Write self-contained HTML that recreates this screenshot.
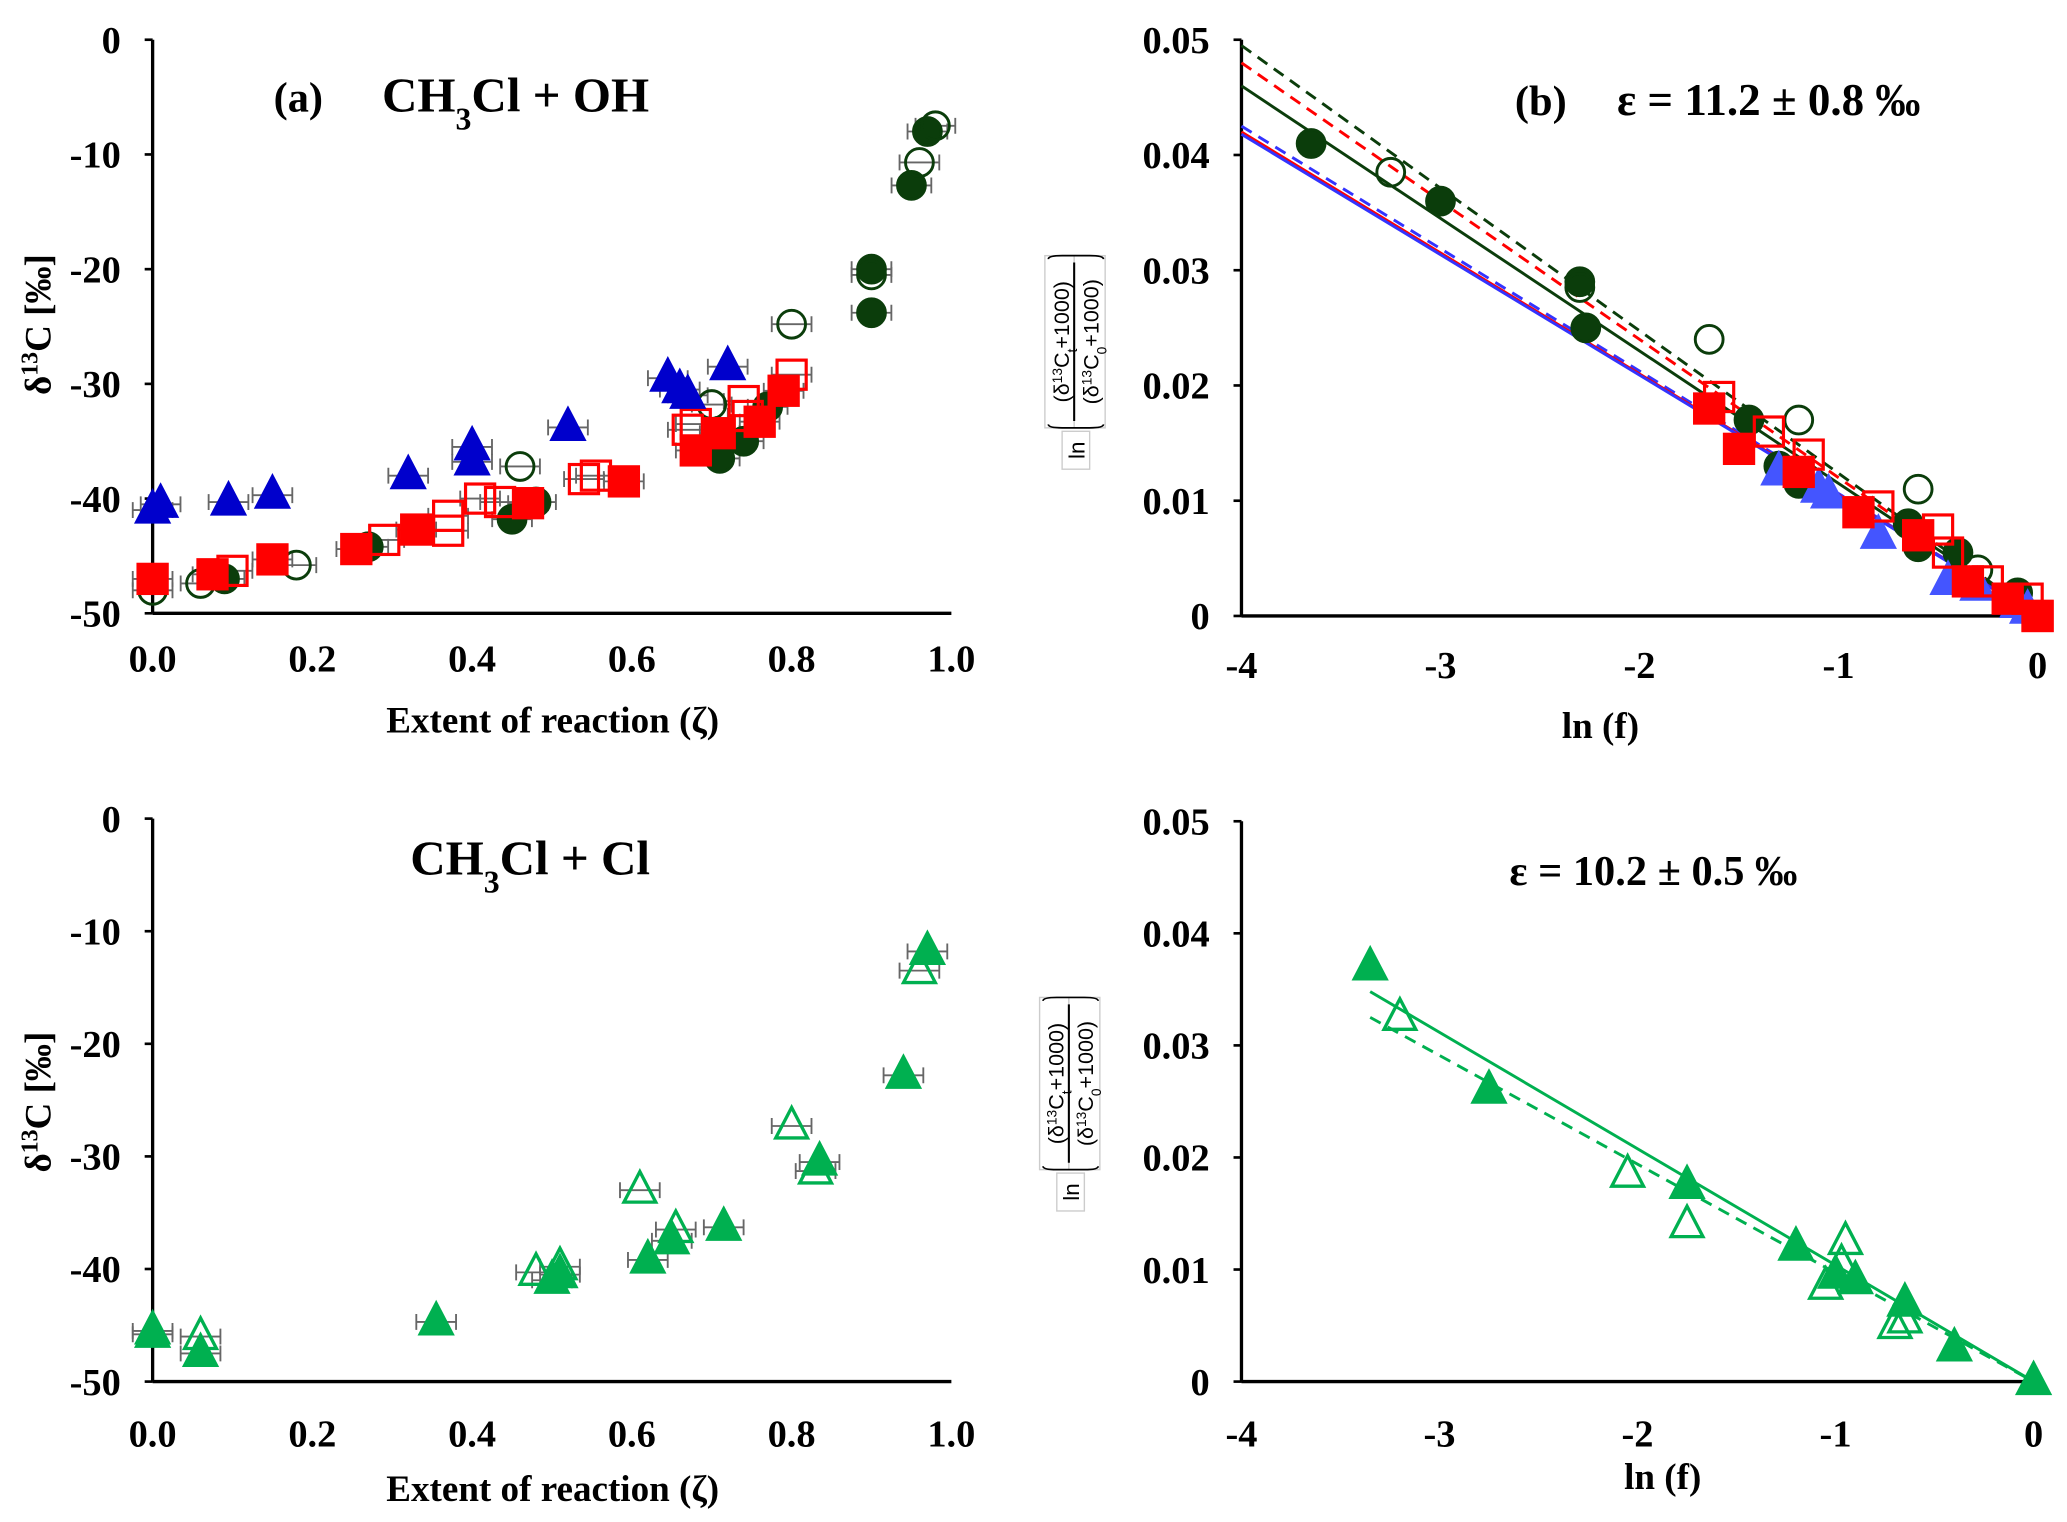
<!DOCTYPE html>
<html><head><meta charset="utf-8"><style>
html,body{margin:0;padding:0;background:#fff}
svg{display:block}
text{font-family:"Liberation Serif",serif;font-weight:bold;fill:#000}
</style></head><body>
<svg id="fig" width="2067" height="1522" viewBox="0 0 1560 1149" xmlns="http://www.w3.org/2000/svg"></svg>
<script>
// ---- Panel (a) data: [zeta, delta]
const aGreenFilled=[[0.09,-47],[0.27,-44.2],[0.45,-41.8],[0.48,-40.3],[0.71,-36.5],[0.74,-35],[0.77,-32],[0.90,-23.8],[0.90,-20],[0.95,-12.7],[0.97,-8]];
const aGreenOpen=[[0.0,-48],[0.06,-47.4],[0.18,-45.8],[0.46,-37.2],[0.70,-31.8],[0.80,-24.8],[0.90,-20.5],[0.96,-10.7],[0.98,-7.5]];
const aBlueTri=[[0,-41],[0.01,-40.5],[0.095,-40.3],[0.15,-39.7],[0.32,-38],[0.40,-36.8],[0.40,-35.5],[0.52,-33.8],[0.645,-29.5],[0.66,-30.5],[0.67,-31],[0.72,-28.5]];
const aRedFilled=[[0,-47],[0.075,-46.6],[0.15,-45.3],[0.255,-44.4],[0.33,-42.7],[0.47,-40.4],[0.59,-38.5],[0.68,-35.8],[0.71,-34.3],[0.76,-33.3],[0.79,-30.6]];
const aRedOpen=[[0.10,-46.3],[0.29,-43.6],[0.37,-41.5],[0.37,-42.8],[0.41,-40],[0.435,-40.3],[0.54,-38.3],[0.555,-38],[0.67,-34],[0.68,-33.5],[0.74,-31.5],[0.745,-32.8],[0.80,-29.2]];
// ---- Panel (b) data: [ln f, value]
const bGreenFilled=[[-3.65,0.041],[-3.0,0.036],[-2.3,0.029],[-2.27,0.025],[-1.45,0.017],[-1.3,0.013],[-1.2,0.0115],[-0.65,0.008],[-0.6,0.006],[-0.4,0.0055],[-0.1,0.002]];
const bGreenOpen=[[-3.25,0.0385],[-2.3,0.0285],[-1.65,0.024],[-1.2,0.017],[-0.6,0.011],[-0.3,0.004]];
const bBlueTri=[[-1.3,0.0125],[-1.1,0.011],[-1.05,0.0105],[-0.8,0.007],[-0.45,0.003],[-0.3,0.0025],[-0.1,0.001],[-0.05,0.0005]];
const bRedFilled=[[-1.65,0.018],[-1.5,0.0145],[-1.2,0.0125],[-0.9,0.009],[-0.6,0.007],[-0.35,0.003],[-0.15,0.0015],[0,0]];
const bRedOpen=[[-1.6,0.019],[-1.35,0.016],[-1.15,0.014],[-0.8,0.0095],[-0.5,0.0075],[-0.45,0.0055],[-0.25,0.003],[-0.05,0.0015],[0,0]];
const bLines=[["#0b3d0b",true,0.0495],["#f00",true,0.048],["#0b3d0b",false,0.046],["#33f",true,0.0425],["#f00",false,0.042],["#33f",false,0.0418]];
// ---- Panel (c) data
const cFilled=[[0,-45.8],[0.06,-47.5],[0.355,-44.7],[0.50,-41],[0.51,-40.5],[0.62,-39.2],[0.65,-37.5],[0.715,-36.3],[0.835,-30.5],[0.94,-22.8],[0.97,-11.8]];
const cOpen=[[0,-45.5],[0.06,-46],[0.48,-40.3],[0.51,-39.8],[0.61,-33],[0.655,-36.5],[0.80,-27.3],[0.83,-31.3],[0.96,-13.5]];
// ---- Panel (d) data
const dFilled=[[-3.35,0.037],[-2.75,0.026],[-1.75,0.0175],[-1.2,0.012],[-1.0,0.0095],[-0.9,0.009],[-0.65,0.007],[-0.4,0.003],[0,0]];
const dOpen=[[-3.2,0.0325],[-2.05,0.0185],[-1.75,0.014],[-1.05,0.0085],[-0.95,0.0125],[-0.97,0.0105],[-0.7,0.005],[-0.65,0.0055]];
const dLines=[[false,-3.35,0.0348],[true,-3.35,0.0325]];
const zTicks=["0.0","0.2","0.4","0.6","0.8","1.0"];
const dTicks=["0","-10","-20","-30","-40","-50"];
const lnTicks=["-4","-3","-2","-1","0"];
const vTicks=["0.05","0.04","0.03","0.02","0.01","0"];

const svg=document.getElementById('fig');
const NS="http://www.w3.org/2000/svg";
function el(tag,attrs,parent){const e=document.createElementNS(NS,tag);for(const k in attrs)e.setAttribute(k,attrs[k]);(parent||svg).appendChild(e);return e;}
function txt(s,x,y,size,anchor,parent){const t=el('text',{x:x,y:y,'font-size':size,'text-anchor':anchor||'middle'},parent);t.innerHTML=s;return t;}
function lin(d0,d1,r0,r1){return v=>r0+(v-d0)/(d1-d0)*(r1-r0);}

function axes(g,x0,x1,yTop,yBot,yT,xT,xLabY,xlabelStart,xlabelEnd){
  el('line',{x1:x0,y1:yTop,x2:x0,y2:yBot,stroke:'#000','stroke-width':2.5},g);
  el('line',{x1:x0,y1:yBot,x2:x1,y2:yBot,stroke:'#000','stroke-width':2.5},g);
  yT.forEach((s,i)=>{const y=yTop+i*(yBot-yTop)/(yT.length-1);
    const tk=el('line',{x1:x0-6,y1:y,x2:x0,y2:y,stroke:'#000','stroke-width':2},g);
    
    const t=txt(s,x0-24,y+10,29,'end',g);});
  xT.forEach((s,i)=>{const x=xlabelStart+i*(xlabelEnd-xlabelStart)/(xT.length-1);
    const t=txt(s,x,xLabY,29,'middle',g);});
}
function circ(g,x,y,fill,stroke){const c=el('circle',{cx:x,cy:y,r:10.5,fill:fill,stroke:stroke,'stroke-width':2.2},g);}
function sq(g,x,y,fill,stroke){const r=el('rect',{x:x-11,y:y-11,width:22,height:22,fill:fill,stroke:stroke,'stroke-width':2.4},g);}
function tri(g,x,y,fill,stroke){const p=el('polygon',{points:`${x},${y-14} ${x-12},${y+9} ${x+12},${y+9}`,fill:fill,stroke:stroke,'stroke-width':2.5,'stroke-linejoin':'miter'},g);}
function errbar(g,x,y){const e=el('path',{d:`M${x-15},${y}H${x+15}M${x-15},${y-6}V${y+6}M${x+15},${y-6}V${y+6}`,stroke:'#666','stroke-width':1.4,fill:'none'},g);}

// Panel a
{const g=el('g',{});
 const X=lin(0,1,115,718),Y=lin(0,-50,30,463);
 axes(g,115,718,30,463,dTicks,zTicks,507,115,718);
 const t1=txt('(a)',225,84,32,'middle',g);
 const t2=txt('CH<tspan baseline-shift="sub" font-size="24">3</tspan>Cl + OH',389,84,37,'middle',g);
 const xt=txt('Extent of  reaction (ζ)',417,553,28,'middle',g);
 const yt=txt('δ<tspan baseline-shift="super" font-size="18">13</tspan>C [‰]',0,0,28,'middle',g);yt.setAttribute('transform','translate(38,245) rotate(-90)');
 [aGreenOpen,aGreenFilled,aRedOpen,aBlueTri,aRedFilled].forEach(a=>a.forEach(p=>errbar(g,X(p[0]),Y(p[1]))));
 aGreenFilled.forEach(p=>circ(g,X(p[0]),Y(p[1]),'#0b3d0b','#0b3d0b'));
 aGreenOpen.forEach(p=>circ(g,X(p[0]),Y(p[1]),'none','#0b3d0b'));
 aRedOpen.forEach(p=>sq(g,X(p[0]),Y(p[1]),'none','#f00'));
 aRedFilled.forEach(p=>sq(g,X(p[0]),Y(p[1]),'#f00','#f00'));
 aBlueTri.forEach(p=>tri(g,X(p[0]),Y(p[1]),'#0000cc','#0000cc'));
}
function formula(g,cx,cy){
 const f=el('g',{transform:`translate(${cx},${cy}) rotate(-90) scale(1.3)`,},g);
 el('rect',{x:-50,y:-18,width:100,height:17,fill:'#fff',stroke:'#ccc','stroke-width':0.8},f);
 el('rect',{x:-50,y:-1,width:100,height:18,fill:'#fff',stroke:'#ccc','stroke-width':0.8},f);
 el('rect',{x:-74,y:-8,width:22,height:16,fill:'#fff',stroke:'#ccc','stroke-width':0.8},f);
 el('line',{x1:-46,y1:-1,x2:46,y2:-1,stroke:'#000','stroke-width':1.2},f);
 el('path',{d:'M-48,-16 Q-50,-16 -50,-8 V8 Q-50,16 -48,16 M48,-16 Q50,-16 50,-8 V8 Q50,16 48,16',stroke:'#000','stroke-width':1,fill:'none'},f);
 const a=el('text',{x:0,y:-4,'font-size':12.5,'text-anchor':'middle',style:'font-family:"Liberation Sans",sans-serif;font-weight:normal'},f);a.innerHTML='(δ<tspan baseline-shift="super" font-size="8">13</tspan>C<tspan baseline-shift="sub" font-size="8">t</tspan>+1000)';
 const b=el('text',{x:0,y:13,'font-size':12.5,'text-anchor':'middle',style:'font-family:"Liberation Sans",sans-serif;font-weight:normal'},f);b.innerHTML='(δ<tspan baseline-shift="super" font-size="8">13</tspan>C<tspan baseline-shift="sub" font-size="8">0</tspan>+1000)';
 const c=el('text',{x:-63,y:5,'font-size':13,'text-anchor':'middle',style:'font-family:"Liberation Sans",sans-serif;font-weight:normal'},f);c.textContent='ln';
}
// Panel b
{const g=el('g',{});
 const X=lin(-4,0,937,1538),Y=lin(0,0.05,465,30);
 axes(g,937,1538,30,465,vTicks,lnTicks,512,937,1538);
 formula(g,812,258);
 const t1=txt('(b)',1163,87,32,'middle',g);
 const t2=txt('ε = 11.2 ± 0.8  ‰',1335,87,34,'middle',g);
 const xt=txt('ln (f)',1208,557,28,'middle',g);
 bLines.forEach(l=>{const e=el('line',{x1:X(-4),y1:Y(l[2]),x2:X(0),y2:Y(0),stroke:l[0],'stroke-width':2.2,'stroke-dasharray':l[1]?'9,6':'none'},g);});
 bGreenFilled.forEach(p=>circ(g,X(p[0]),Y(p[1]),'#0b3d0b','#0b3d0b'));
 bGreenOpen.forEach(p=>circ(g,X(p[0]),Y(p[1]),'none','#0b3d0b'));
 bBlueTri.forEach(p=>tri(g,X(p[0]),Y(p[1]),'#4455ff','#4455ff'));
 bRedFilled.forEach(p=>sq(g,X(p[0]),Y(p[1]),'#f00','#f00'));
 bRedOpen.forEach(p=>sq(g,X(p[0]),Y(p[1]),'none','#f00'));
}
// Panel c
{const g=el('g',{});
 const X=lin(0,1,115,718),Y=lin(0,-50,618,1043);
 axes(g,115,718,618,1043,dTicks,zTicks,1092,115,718);
 const t2=txt('CH<tspan baseline-shift="sub" font-size="24">3</tspan>Cl + Cl',400,660,37,'middle',g);
 const xt=txt('Extent of reaction (ζ)',417,1133,28,'middle',g);
 const yt=txt('δ<tspan baseline-shift="super" font-size="18">13</tspan>C [‰]',0,0,28,'middle',g);yt.setAttribute('transform','translate(38,832) rotate(-90)');
 [cFilled,cOpen].forEach(a=>a.forEach(p=>errbar(g,X(p[0]),Y(p[1]))));
 cOpen.forEach(p=>tri(g,X(p[0]),Y(p[1]),'none','#00b050'));
 cFilled.forEach(p=>tri(g,X(p[0]),Y(p[1]),'#00b050','#00b050'));
}
// Panel d
{const g=el('g',{});
 const X=lin(-4,0,937,1535),Y=lin(0,0.05,1043,620);
 axes(g,937,1535,620,1043,vTicks,lnTicks,1092,937,1535);
 formula(g,808,818);
 const t2=txt('ε = 10.2 ± 0.5 ‰',1248,668,32,'middle',g);
 const xt=txt('ln (f)',1255,1124,28,'middle',g);
 dLines.forEach(l=>{const e=el('line',{x1:X(l[1]),y1:Y(l[2]),x2:X(0),y2:Y(0),stroke:'#00b050','stroke-width':2.2,'stroke-dasharray':l[0]?'9,6':'none'},g);});
 dOpen.forEach(p=>tri(g,X(p[0]),Y(p[1]),'none','#00b050'));
 dFilled.forEach(p=>tri(g,X(p[0]),Y(p[1]),'#00b050','#00b050'));
}
</script>
</body></html>
